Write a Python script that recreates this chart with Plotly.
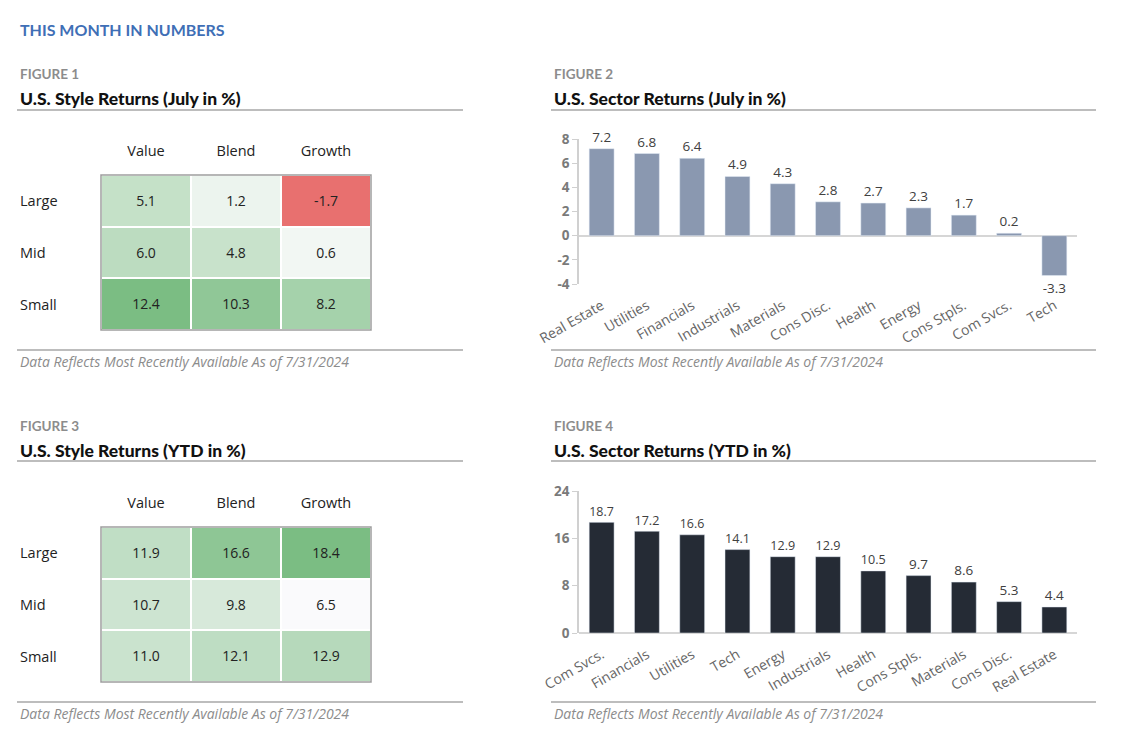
import plotly.graph_objects as go

W, H = 1122, 744

# ---------------- data ----------------
styles = ["Value", "Blend", "Growth"]
sizes = ["Large", "Mid", "Small"]
style_july = [[5.1, 1.2, -1.7],
              [6.0, 4.8, 0.6],
              [12.4, 10.3, 8.2]]
style_ytd = [[11.9, 16.6, 18.4],
             [10.7, 9.8, 6.5],
             [11.0, 12.1, 12.9]]

sector_july_names = ["Real Estate", "Utilities", "Financials", "Industrials", "Materials",
                     "Cons Disc.", "Health", "Energy", "Cons Stpls.", "Com Svcs.", "Tech"]
sector_july_vals = [7.2, 6.8, 6.4, 4.9, 4.3, 2.8, 2.7, 2.3, 1.7, 0.2, -3.3]

sector_ytd_names = ["Com Svcs.", "Financials", "Utilities", "Tech", "Energy", "Industrials",
                    "Health", "Cons Stpls.", "Materials", "Cons Disc.", "Real Estate"]
sector_ytd_vals = [18.7, 17.2, 16.6, 14.1, 12.9, 12.9, 10.5, 9.7, 8.6, 5.3, 4.4]

july_ticks = [-4, -2, 0, 2, 4, 6, 8]
july_tick_text = ["-4", "-2", "0", "2", "4", "6", "8"]
ytd_ticks = [0, 8, 16, 24]
ytd_tick_text = ["0", "8", "16", "24"]

FOOT = "Data Reflects Most Recently Available As of 7/31/2024"

# ---------------- helpers ----------------
def px(x):
    return x / W

def py(y):
    return 1 - y / H

TFONT = "Lato"        # titles
BFONT = "Open Sans"   # body text
fig = go.Figure()

# Figure 1 heatmap colours: red at min, white at 0, green at max
zmin1, zmax1 = -1.7, 12.4
p0 = (0 - zmin1) / (zmax1 - zmin1)
cs1 = [[0, "#E8706F"], [p0, "#F8FAF9"], [1, "#7BBD83"]]
cs3 = [[0, "#FAFAFC"], [1, "#7BBD83"]]

cell_font = dict(family=BFONT, size=14, color="#222222")

fig.add_trace(go.Heatmap(z=style_july, x=styles, y=sizes, colorscale=cs1,
                         zmin=zmin1, zmax=zmax1, showscale=False, xgap=2, ygap=2,
                         texttemplate="%{z:.1f}", textfont=cell_font, hoverinfo="skip",
                         xaxis="x", yaxis="y"))
fig.add_trace(go.Heatmap(z=style_ytd, x=styles, y=sizes, colorscale=cs3,
                         zmin=6.5, zmax=18.4, showscale=False, xgap=2, ygap=2,
                         texttemplate="%{z:.1f}", textfont=cell_font, hoverinfo="skip",
                         xaxis="x3", yaxis="y3"))

bar_text_font = dict(family=BFONT, size=13.5, color="#404040")
fig.add_trace(go.Bar(x=sector_july_names, y=sector_july_vals, marker_color="#8A98B0",
                     text=[f"{v:.1f}" for v in sector_july_vals], textposition="outside",
                     textfont=bar_text_font, cliponaxis=False, hoverinfo="skip",
                     xaxis="x2", yaxis="y2"))
fig.add_trace(go.Bar(x=sector_ytd_names, y=sector_ytd_vals, marker_color="#252B35",
                     text=[f"{v:.1f}" for v in sector_ytd_vals], textposition="outside",
                     textfont=bar_text_font, cliponaxis=False, hoverinfo="skip",
                     xaxis="x4", yaxis="y4"))

hm_x = [px(101), px(371)]
header_font = dict(family=BFONT, size=14.5, color="#222222")
for xa, ya, top, bot in [("xaxis", "yaxis", 175, 330), ("xaxis3", "yaxis3", 527, 682)]:
    fig.layout[xa] = dict(domain=hm_x, side="top", showgrid=False, zeroline=False,
                          ticks="outside", ticklen=12, tickcolor="rgba(0,0,0,0)",
                          tickfont=header_font, fixedrange=True, automargin=False,
                          anchor=ya.replace("axis", ""))
    fig.layout[ya] = dict(domain=[py(bot), py(top)], autorange="reversed",
                          showgrid=False, zeroline=False, showticklabels=False,
                          fixedrange=True, automargin=False,
                          anchor=xa.replace("axis", ""))

bar_x = [px(579), px(1077)]
cat_font = dict(family=BFONT, size=14, color="#666666")
tick_font = dict(family=BFONT, size=13.5, color="#7A7A7A", weight="bold")
for xa, ya, rng, tv, tt, top, bot in [
        ("xaxis2", "yaxis2", [-4, 8], july_ticks, july_tick_text, 139, 284),
        ("xaxis4", "yaxis4", [0, 24], ytd_ticks, ytd_tick_text, 491, 633)]:
    fig.layout[xa] = dict(domain=bar_x, anchor=ya.replace("axis", ""), tickangle=-30,
                          tickfont=cat_font, showline=False, showgrid=False,
                          zeroline=False, ticks="", fixedrange=True, automargin=False,
                          ticklabelstandoff=10)
    fig.layout[ya] = dict(domain=[py(bot), py(top)], anchor=xa.replace("axis", ""),
                          range=rng, tickvals=tv, ticktext=tt, tickfont=tick_font,
                          showgrid=False, showline=True, linecolor="#D0D0D0",
                          linewidth=1.5, ticks="outside", ticklen=5, tickcolor="#D0D0D0",
                          zeroline=True, zerolinecolor="#D6D6D6", zerolinewidth=1.5,
                          fixedrange=True, automargin=False)

annotations = []
shapes = []

def text(x, y, s, size, color, family, weight="normal", style="normal"):
    annotations.append(dict(x=px(x), y=py(y), xref="paper", yref="paper", text=s,
                            showarrow=False, xanchor="left", yanchor="middle",
                            font=dict(family=family, size=size, color=color,
                                      weight=weight, style=style)))

def rule(x0, x1, y):
    shapes.append(dict(type="line", xref="paper", yref="paper", x0=px(x0), x1=px(x1),
                       y0=py(y), y1=py(y), line=dict(color="#BDBDBD", width=2)))

text(18, 30, "THIS MONTH IN NUMBERS", 16, "#3F6FB6", TFONT, weight="bold")

panels = [
    (18, 17, 463, 74, 98, 110, 350, 361, "FIGURE 1", "U.S. Style Returns (July in %)"),
    (552, 551, 1096, 74, 98, 110, 350, 361, "FIGURE 2", "U.S. Sector Returns (July in %)"),
    (18, 17, 463, 426, 450, 461, 702, 713, "FIGURE 3", "U.S. Style Returns (YTD in %)"),
    (552, 551, 1096, 426, 450, 461, 702, 713, "FIGURE 4", "U.S. Sector Returns (YTD in %)"),
]
for tx, rx0, rx1, yf, yt, ytop, ybot, yfoot, fl, tl in panels:
    text(tx, yf, fl, 13.5, "#8C8C8C", TFONT, weight="bold")
    text(tx, yt, tl, 17.5, "#111111", TFONT, weight=900)
    rule(rx0, rx1, ytop)
    rule(rx0, rx1, ybot)
    text(tx, yfoot, FOOT, 14, "#8C8C8C", BFONT, style="italic")

# row labels for heatmaps (positioned on category axis)
for ya in ["y", "y3"]:
    for s in sizes:
        annotations.append(dict(x=px(18), y=s, xref="paper", yref=ya, text=s,
                                showarrow=False, xanchor="left", yanchor="middle",
                                font=dict(family=BFONT, size=14.5, color="#222222")))

# outer borders of heatmaps
for top, bot in [(175, 330), (527, 682)]:
    shapes.append(dict(type="rect", xref="paper", yref="paper", x0=px(101), x1=px(371),
                       y0=py(bot), y1=py(top), line=dict(color="#9E9E9E", width=1.5)))

fig.update_layout(width=W, height=H, autosize=False,
                  margin=dict(l=0, r=0, t=0, b=0, pad=0, autoexpand=False),
                  paper_bgcolor="white", plot_bgcolor="white",
                  showlegend=False, bargap=0.45,
                  annotations=annotations, shapes=shapes,
                  font=dict(family=BFONT))

fig.write_html("out.html", config={"displayModeBar": False},
               post_script="document.body.style.margin='0';document.body.style.padding='0';"
                           "document.body.style.overflow='hidden';")
